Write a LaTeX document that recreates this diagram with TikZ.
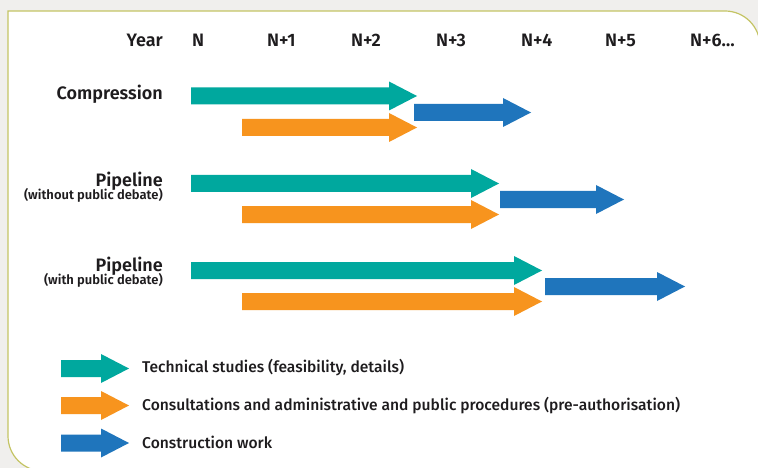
\documentclass[tikz,border=0pt]{standalone}
\usepackage{fontspec}
\setmainfont{Fira Sans}[BoldFont={Fira Sans SemiBold}]
\newfontfamily\keyfont{Fira Sans Medium}
\definecolor{ink}{RGB}{30,28,30}
\definecolor{paper}{RGB}{240,239,237}
\definecolor{frame}{RGB}{196,196,100}
\definecolor{study}{RGB}{0,168,158}
\definecolor{proc}{RGB}{247,148,30}
\definecolor{works}{RGB}{31,117,188}
% filled block arrow: colour, start x, tip x, centre y
\newcommand\blockarrow[4]{%
  \fill[#1] (#2,#4-8.5) -- (#3-28,#4-8.5) -- (#3-28,#4-14.5) -- (#3,#4)
    -- (#3-28,#4+14.5) -- (#3-28,#4+8.5) -- (#2,#4+8.5) -- cycle;}
\begin{document}
\begin{tikzpicture}[x=1pt,y=-1pt,
  hdr/.style={font=\bfseries\fontsize{18}{20}\selectfont,text=ink,inner sep=0pt},
  sub/.style={font=\bfseries\fontsize{13}{15}\selectfont,text=ink,inner sep=0pt},
  key/.style={font=\keyfont\fontsize{15.6}{17}\selectfont,text=ink,inner sep=0pt,anchor=base west}]
\useasboundingbox (0,0) rectangle (758,468);
\clip (0,0) rectangle (758,468);
\fill[paper] (0,0) rectangle (758,468);
% panel with two rounded corners
\draw[frame,line width=1.2pt,fill=white]
  (8,11) -- (725,11) arc[start angle=90,end angle=0,radius=35pt]
  -- (760,471) -- (43,471) arc[start angle=270,end angle=180,radius=35pt]
  -- cycle;
% year scale
\node[hdr,anchor=base east] (year) at (163,46.5) {Year};
\node[hdr,anchor=base west] (y0) at (192,46.5) {N};
\node[hdr,anchor=base west] (y1) at (267,46.5) {N+1};
\node[hdr,anchor=base west] (y2) at (351,46.5) {N+2};
\node[hdr,anchor=base west] (y3) at (436,46.5) {N+3};
\node[hdr,anchor=base west] (y4) at (521,46.5) {N+4};
\node[hdr,anchor=base west] (y5) at (605,46.5) {N+5};
\node[hdr,anchor=base west] (y6) at (690,46.5) {N+6…};
% compression
\node[hdr,anchor=base east] (comp) at (163,100) {Compression};
\blockarrow{study}{191}{417}{96}
\blockarrow{proc}{242}{417}{127.5}
\blockarrow{works}{414}{531}{112.5}
% pipeline without public debate
\node[hdr,anchor=base east] (pipeA) at (163,186) {Pipeline};
\node[sub,anchor=base east] (pipeAsub) at (163,199.5) {(without public debate)};
\blockarrow{study}{191}{499}{183.5}
\blockarrow{proc}{242}{499}{214.5}
\blockarrow{works}{500}{624}{199.5}
% pipeline with public debate
\node[hdr,anchor=base east] (pipeB) at (163,271) {Pipeline};
\node[sub,anchor=base east] (pipeBsub) at (163,284.5) {(with public debate)};
\blockarrow{study}{191}{542}{270.5}
\blockarrow{proc}{242}{542}{301.5}
\blockarrow{works}{545}{685}{286.5}
% legend
\blockarrow{study}{61}{129}{368.5}
\blockarrow{proc}{61}{129}{405.5}
\blockarrow{works}{61}{129}{443}
\node[key] (kstudy) at (142,372) {Technical studies (feasibility, details)};
\node[key] (kproc) at (142,410) {Consultations and administrative and public procedures (pre-authorisation)};
\node[key] (kworks) at (142,448) {Construction work};
\end{tikzpicture}
\end{document}
